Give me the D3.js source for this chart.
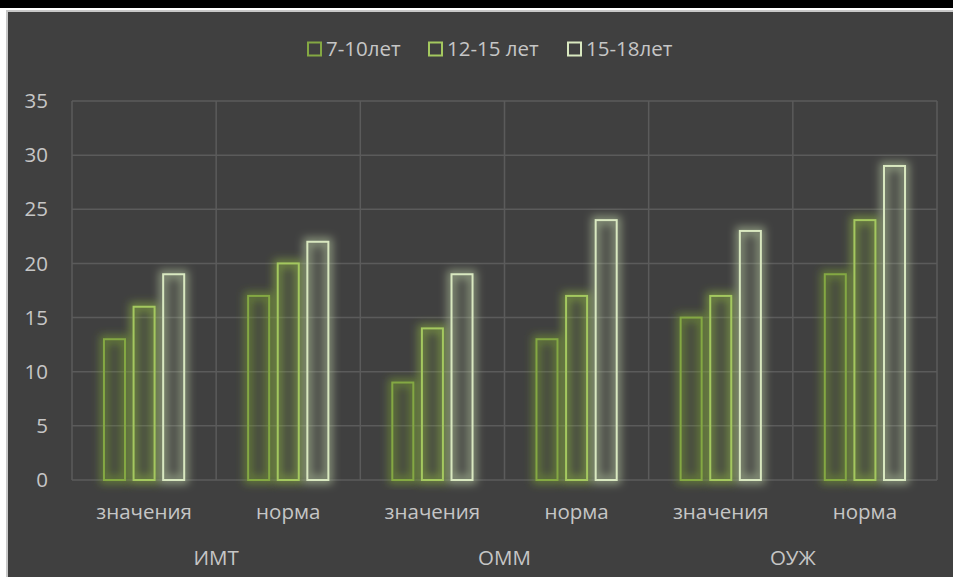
<!DOCTYPE html>
<html>
<head>
<meta charset="utf-8">
<script src="https://cdn.jsdelivr.net/npm/d3@7"></script>
<style>
  html, body { margin: 0; padding: 0; background: #ffffff; }
  svg { display: block; }
</style>
</head>
<body>
<script>
// chart data
var groups = ["ИМТ", "ОММ", "ОУЖ"];
var subCats = ["значения", "норма"];
var seriesNames = ["7-10лет", "12-15 лет", "15-18лет"];
var s1 = [13, 17, 9, 13, 15, 19];
var s2 = [16, 20, 14, 17, 17, 24];
var s3 = [19, 22, 19, 24, 23, 29];
var yTicks = [0, 5, 10, 15, 20, 25, 30, 35];

var seriesColors = ["#84a843", "#a4c85f", "#d9e8c0"];
var glowColors = ["#7a9e35", "#8fb443", "#b8c9a0"];

// Width and height
var w = 953;
var h = 577;
var plotLeft = 72, plotRight = 937, plotTop = 101, plotBottom = 480;
var font = "'Open Sans', sans-serif";
var fontSize = "20.5px";
var textColor = "#c6c6c6";

var svg = d3.select("body")
            .append("svg")
            .attr("width", w)
            .attr("height", h);

// glow filter for the bars
var defs = svg.append("defs");
var f = defs.append("filter").attr("id", "glow")
    .attr("x", "-60%").attr("y", "-10%").attr("width", "220%").attr("height", "120%");
f.append("feGaussianBlur").attr("in", "SourceGraphic").attr("stdDeviation", 4.5);

// page frame: black band on top, light border, dark chart area
svg.append("rect").attr("x", 0).attr("y", 0).attr("width", w).attr("height", h).attr("fill", "#ffffff");
svg.append("rect").attr("x", 0).attr("y", 0).attr("width", w).attr("height", 8).attr("fill", "#000000");
svg.append("rect").attr("x", 6).attr("y", 10).attr("width", w - 6).attr("height", h - 10).attr("fill", "#c8c8c8");
svg.append("rect").attr("x", 8).attr("y", 12).attr("width", w - 8).attr("height", h - 12).attr("fill", "#404040");

// flattened categories
var cats = [];
groups.forEach(function(g, gi) {
  subCats.forEach(function(s, si) { cats.push({ group: g, sub: s, i: gi * subCats.length + si }); });
});

var x0 = d3.scaleBand()
           .domain(d3.range(cats.length))
           .range([plotLeft, plotRight])
           .padding(0);

var x1 = d3.scaleBand()
           .domain(d3.range(seriesNames.length))
           .range([0, x0.bandwidth()])
           .paddingInner(0.29)
           .paddingOuter(1.08);

var y = d3.scaleLinear()
          .domain([0, 35])
          .range([plotBottom, plotTop]);

// horizontal gridlines
svg.append("g").selectAll("line")
   .data(yTicks)
   .enter()
   .append("line")
   .attr("x1", plotLeft).attr("x2", plotRight)
   .attr("y1", function(d) { return y(d); })
   .attr("y2", function(d) { return y(d); })
   .attr("stroke", "#5b5b5b")
   .attr("stroke-width", 1.5);

// vertical separators
svg.append("g").selectAll("line")
   .data(d3.range(cats.length + 1))
   .enter()
   .append("line")
   .attr("x1", function(d) { return plotLeft + d * x0.step(); })
   .attr("x2", function(d) { return plotLeft + d * x0.step(); })
   .attr("y1", plotTop).attr("y2", plotBottom)
   .attr("stroke", "#5b5b5b")
   .attr("stroke-width", 1.5);

// y tick labels
svg.append("g").selectAll("text")
   .data(yTicks)
   .enter()
   .append("text")
   .text(function(d) { return d; })
   .attr("x", 48)
   .attr("y", function(d) { return y(d); })
   .attr("dy", "0.35em")
   .attr("text-anchor", "end")
   .attr("font-family", font)
   .attr("font-size", fontSize)
   .attr("fill", textColor);

// bars
var allSeries = [s1, s2, s3];
var barData = [];
allSeries.forEach(function(vals, si) {
  vals.forEach(function(v, ci) { barData.push({ s: si, c: ci, v: v }); });
});

var barG = svg.append("g");
// soft glow behind
barG.selectAll("rect.glow")
    .data(barData)
    .enter()
    .append("rect")
    .attr("class", "glow")
    .attr("x", function(d) { return x0(d.c) + x1(d.s); })
    .attr("y", function(d) { return y(d.v); })
    .attr("width", x1.bandwidth())
    .attr("height", function(d) { return plotBottom - y(d.v); })
    .attr("fill", function(d) { return glowColors[d.s]; })
    .attr("fill-opacity", 0.12)
    .attr("stroke", function(d) { return glowColors[d.s]; })
    .attr("stroke-width", 8)
    .attr("stroke-opacity", 0.6)
    .attr("filter", "url(#glow)");
// crisp outline
barG.selectAll("rect.bar")
    .data(barData)
    .enter()
    .append("rect")
    .attr("class", "bar")
    .attr("x", function(d) { return x0(d.c) + x1(d.s); })
    .attr("y", function(d) { return y(d.v); })
    .attr("width", x1.bandwidth())
    .attr("height", function(d) { return plotBottom - y(d.v); })
    .attr("fill", "none")
    .attr("stroke", function(d) { return seriesColors[d.s]; })
    .attr("stroke-width", 2);

// sub category labels
svg.append("g").selectAll("text")
   .data(cats)
   .enter()
   .append("text")
   .text(function(d) { return d.sub; })
   .attr("x", function(d) { return x0(d.i) + x0.bandwidth() / 2; })
   .attr("y", 512)
   .attr("dy", "0.35em")
   .attr("text-anchor", "middle")
   .attr("font-family", font)
   .attr("font-size", fontSize)
   .attr("fill", textColor);

// group labels
svg.append("g").selectAll("text")
   .data(groups)
   .enter()
   .append("text")
   .text(function(d) { return d; })
   .attr("x", function(d, i) { return x0(i * 2) + x0.step(); })
   .attr("y", 558)
   .attr("dy", "0.35em")
   .attr("text-anchor", "middle")
   .attr("font-family", font)
   .attr("font-size", fontSize)
   .attr("fill", textColor);

// legend
var legendX = [308, 429, 568];
var lg = svg.append("g").selectAll("g")
   .data(seriesNames)
   .enter()
   .append("g")
   .attr("transform", function(d, i) { return "translate(" + legendX[i] + ",49)"; });
lg.append("rect")
  .attr("x", 0).attr("y", -6.5)
  .attr("width", 13).attr("height", 13)
  .attr("fill", "none")
  .attr("stroke", function(d, i) { return seriesColors[i]; })
  .attr("stroke-width", 2);
lg.append("text")
  .text(function(d) { return d; })
  .attr("x", 18)
  .attr("dy", "0.35em")
  .attr("font-family", font)
  .attr("font-size", fontSize)
  .attr("fill", textColor);
</script>
</body>
</html>
